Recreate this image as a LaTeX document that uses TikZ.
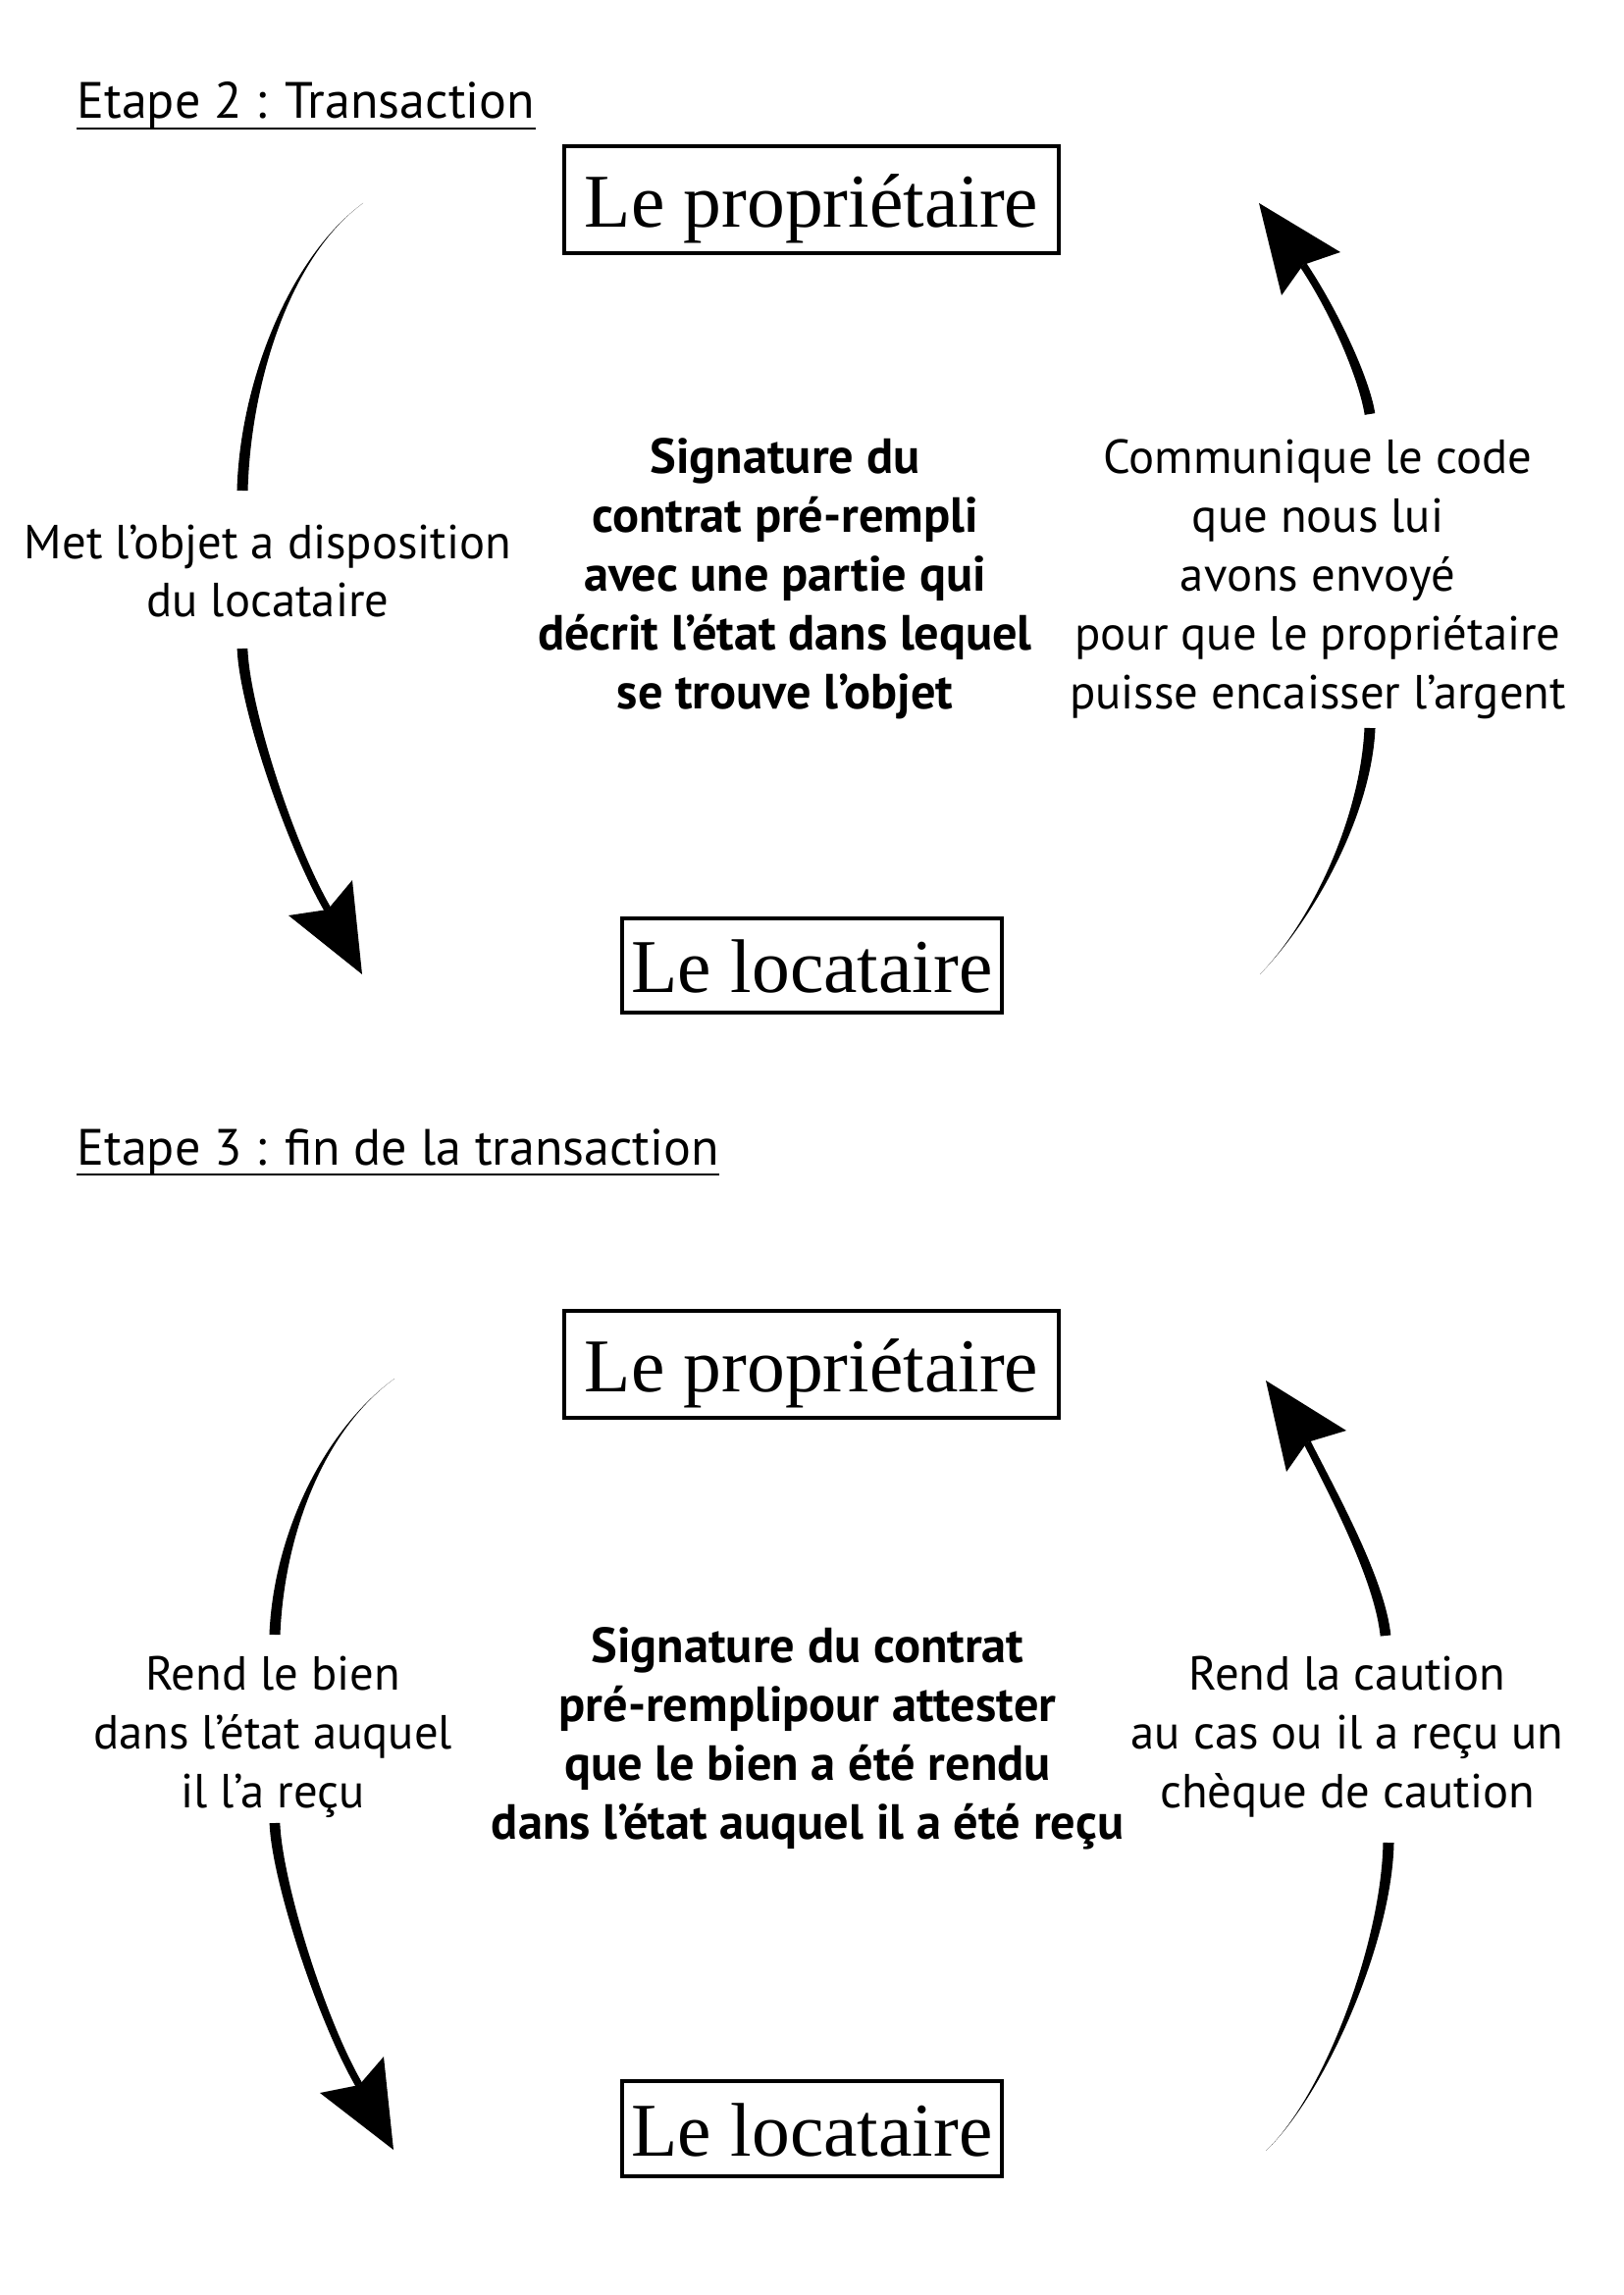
\documentclass[tikz,border=0pt]{standalone}
\usepackage{fontspec}
\setsansfont{PT Sans}
\newfontfamily\boxserif{Liberation Serif}
\usetikzlibrary{calc}
\newcommand\lblfnt{\sffamily\fontsize{17.6}{21.6}\selectfont}
\newcommand\boldfnt{\sffamily\bfseries\fontsize{18.2}{21.6}\selectfont}
\newcommand\titlefnt{\sffamily\fontsize{18.8}{24}\selectfont}
\newcommand\boxfnt{\boxserif\fontsize{28}{32}\selectfont}
% tapered stroke: P0, P1, P2, P3 (cubic), half width at start, half width at end
\newcommand\taperpiece[6]{%
  \fill[arrowfill] ($(#1)!#5!90:(#2)$) .. controls ($(#2)!#5!-90:(#1)$) and ($(#3)!#6!90:(#4)$) .. ($(#4)!#6!-90:(#3)$)
    -- ($(#4)!#6!90:(#3)$) .. controls ($(#3)!#6!-90:(#4)$) and ($(#2)!#5!90:(#1)$) .. ($(#1)!#5!-90:(#2)$) -- cycle;}
\tikzset{
  boxnode/.style={draw, line width=1.4pt, inner sep=0pt, font=\boxfnt, text height=20.2pt, text depth=0pt},
  bigbox/.style={boxnode, minimum width=64.0mm, minimum height=13.84mm},
  smallbox/.style={boxnode, minimum width=49.15mm, minimum height=12.3mm},
  lbl/.style={align=center, font=\lblfnt, inner sep=0pt, anchor=base},
  boldlbl/.style={align=center, font=\boldfnt, inner sep=0pt, anchor=base},
  titlenode/.style={font=\titlefnt, inner sep=0pt, anchor=base west},
  underline/.style={line width=1pt},
  arrowfill/.style={fill=black, draw=none},
}
\begin{document}
\begin{tikzpicture}[x=0.127mm, y=-0.127mm]
\useasboundingbox (0,0) rectangle (1654,2339);

% ---------------- Etape 2 ----------------
\node[titlenode] (t2) at (78,121) {Etape 2 : Transaction};
\draw[underline] ($(t2.base west)+(0,10)$) -- ($(t2.base east)+(0,10)$);

\node[bigbox] (p2) at (827,203.5) {Le propriétaire};
\node[smallbox] (l2) at (827.5,984) {Le locataire};

% anchor=base is the baseline of the last line
\node[boldlbl] (c2) at (800,722) {Signature du\\contrat pré-rempli\\avec une partie qui\\décrit l’état dans lequel\\se trouve l’objet};
\node[lbl] (ml2) at (273,629) {Met l’objet a disposition\\du locataire};
\node[lbl] (mr2) at (1343,722) {Communique le code\\que nous lui\\avons envoyé\\pour que le propriétaire\\puisse encaisser l’argent};

% left arrow (proprietaire -> locataire)
\coordinate (a2s) at (370,207);
\coordinate (a2g1) at (247,500);
\coordinate (a2g2) at (247,661);
\coordinate (a2n) at (334,927);
\coordinate (a2tip) at (369,993);
\taperpiece{a2s}{295,262}{250,390}{a2g1}{0mm}{0.7mm}
\taperpiece{a2g2}{249,720}{295,860}{a2n}{0.68mm}{0.48mm}
\fill[arrowfill] (a2tip) -- (294,933) -- (a2n) -- (359,897) -- cycle;

% right arrow (locataire -> proprietaire)
\coordinate (b2s) at (1284,993);
\coordinate (b2g1) at (1396,742);
\coordinate (b2g2) at (1396,422);
\coordinate (b2n) at (1328,270);
\coordinate (b2tip) at (1283,207);
\taperpiece{b2s}{1340,935}{1392,830}{b2g1}{0mm}{0.7mm}
\taperpiece{b2g2}{1390,385}{1360,318}{b2n}{0.68mm}{0.48mm}
\fill[arrowfill] (b2tip) -- (1366,257) -- (b2n) -- (1306,301) -- cycle;

% ---------------- Etape 3 ----------------
\node[titlenode] (t3) at (78,1187) {Etape 3 : fin de la transaction};
\draw[underline] ($(t3.base west)+(0,10)$) -- ($(t3.base east)+(0,10)$);

\node[bigbox] (p3) at (827,1390.5) {Le propriétaire};
\node[smallbox] (l3) at (827.5,2169.5) {Le locataire};

\node[boldlbl] (c3) at (823,1874) {Signature du contrat\\pré-remplipour attester\\que le bien a été rendu\\dans l’état auquel il a été reçu};
\node[lbl] (ml3) at (278,1842) {Rend le bien\\dans l’état auquel\\il l’a reçu};
\node[lbl] (mr3) at (1373,1842) {Rend la caution\\au cas ou il a reçu un\\chèque de caution};

% left arrow
\coordinate (a3s) at (402,1405);
\coordinate (a3g1) at (280,1666);
\coordinate (a3g2) at (280,1858);
\coordinate (a3n) at (366,2125);
\coordinate (a3tip) at (401,2191);
\taperpiece{a3s}{327,1460}{284,1568}{a3g1}{0mm}{0.7mm}
\taperpiece{a3g2}{282,1916}{327,2058}{a3n}{0.68mm}{0.48mm}
\fill[arrowfill] (a3tip) -- (326,2133) -- (a3n) -- (391,2096) -- cycle;

% right arrow
\coordinate (b3s) at (1290,2192);
\coordinate (b3g1) at (1415,1878);
\coordinate (b3g2) at (1412,1667);
\coordinate (b3n) at (1332,1470);
\coordinate (b3tip) at (1290,1407);
\taperpiece{b3s}{1350,2135}{1413,1980}{b3g1}{0mm}{0.7mm}
\taperpiece{b3g2}{1406,1610}{1360,1525}{b3n}{0.68mm}{0.48mm}
\fill[arrowfill] (b3tip) -- (1372,1458) -- (b3n) -- (1311,1500) -- cycle;
\end{tikzpicture}
\end{document}
